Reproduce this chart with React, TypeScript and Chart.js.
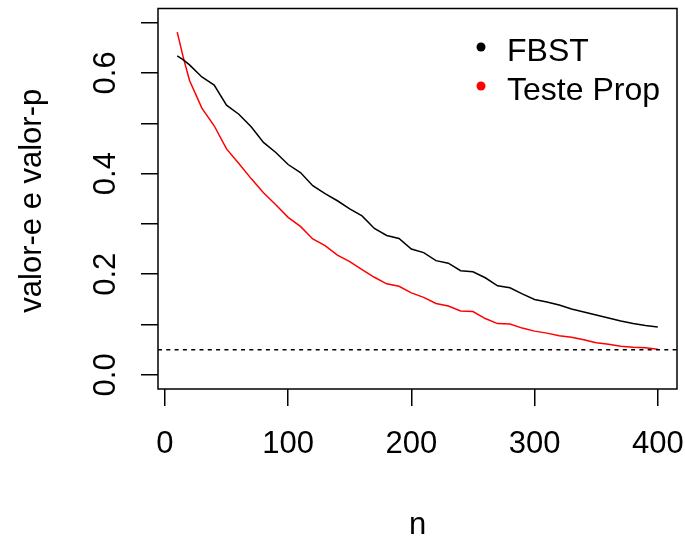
import { useEffect, useRef } from "react";
import { Chart, registerables } from "chart.js";

Chart.register(...registerables);

const nValues = [10, 15, 20, 30, 40, 50, 60, 70, 80, 90, 100, 110, 120, 130, 140, 150, 160, 170, 180, 190, 200, 210, 220, 230, 240, 250, 260, 270, 280, 290, 300, 310, 320, 330, 340, 350, 360, 370, 380, 390, 400];
const fbstValues = [0.634, 0.626, 0.616, 0.592, 0.576, 0.536, 0.518, 0.493, 0.462, 0.442, 0.418, 0.402, 0.376, 0.360, 0.346, 0.330, 0.316, 0.291, 0.277, 0.271, 0.250, 0.243, 0.227, 0.222, 0.207, 0.205, 0.193, 0.177, 0.173, 0.161, 0.150, 0.145, 0.139, 0.131, 0.125, 0.119, 0.113, 0.107, 0.102, 0.098, 0.095];
const propValues = [0.681, 0.630, 0.585, 0.530, 0.495, 0.449, 0.420, 0.390, 0.362, 0.338, 0.313, 0.295, 0.270, 0.257, 0.238, 0.225, 0.209, 0.194, 0.181, 0.176, 0.163, 0.154, 0.142, 0.137, 0.127, 0.126, 0.112, 0.102, 0.101, 0.093, 0.087, 0.083, 0.078, 0.075, 0.070, 0.064, 0.061, 0.057, 0.055, 0.054, 0.051];

const xTicks = [0, 100, 200, 300, 400];
const xTickLabels = ["0", "100", "200", "300", "400"];
const yTicks = [0, 0.1, 0.2, 0.3, 0.4, 0.5, 0.6, 0.7];
const yTickLabels = ["0.0", "", "0.2", "", "0.4", "", "0.6", ""];
const alphaLevel = 0.05;
const seriesLabels = ["FBST", "Teste Prop"];
const seriesColors = ["#000000", "#ff0000"];
const xTitle = "n";
const yTitle = "valor-e e valor-p";

const FONT = '31px "Liberation Sans", Arial, sans-serif';
const LEGEND_FONT = '32px "Liberation Sans", Arial, sans-serif';

const rPlotPlugin = {
  id: "rPlot",
  afterDatasetsDraw(chart: any) {
    const { ctx, chartArea, scales } = chart;
    const xs = scales.x;
    const ys = scales.y;
    ctx.save();
    // dotted abline
    const yA = ys.getPixelForValue(alphaLevel);
    ctx.strokeStyle = "#000";
    ctx.lineWidth = 1.5;
    ctx.setLineDash([4, 4.3]);
    ctx.beginPath();
    ctx.moveTo(chartArea.left, yA);
    ctx.lineTo(chartArea.right, yA);
    ctx.stroke();
    ctx.setLineDash([]);
    // box
    ctx.lineWidth = 1.5;
    ctx.strokeRect(chartArea.left, chartArea.top, chartArea.right - chartArea.left, chartArea.bottom - chartArea.top);

    ctx.fillStyle = "#000";
    ctx.font = FONT;
    // x tick labels
    ctx.textAlign = "center";
    ctx.textBaseline = "alphabetic";
    xTicks.forEach((v, i) => {
      ctx.fillText(xTickLabels[i], xs.getPixelForValue(v), 453);
    });
    // x title
    ctx.fillText(xTitle, (chartArea.left + chartArea.right) / 2, 534);
    // y tick labels rotated
    yTicks.forEach((v, i) => {
      if (!yTickLabels[i]) return;
      ctx.save();
      ctx.translate(115, ys.getPixelForValue(v));
      ctx.rotate(-Math.PI / 2);
      ctx.fillText(yTickLabels[i], 0, 0);
      ctx.restore();
    });
    // y title
    ctx.save();
    ctx.translate(41, (chartArea.top + chartArea.bottom) / 2 + 2);
    ctx.rotate(-Math.PI / 2);
    ctx.fillText(yTitle, 0, 0);
    ctx.restore();
    // legend
    ctx.font = LEGEND_FONT;
    ctx.textAlign = "left";
    const legY = [61, 100];
    seriesLabels.forEach((lab, i) => {
      ctx.fillStyle = seriesColors[i];
      ctx.beginPath();
      ctx.arc(481, legY[i] - 14, 4.5, 0, Math.PI * 2);
      ctx.fill();
      ctx.fillStyle = "#000";
      ctx.fillText(lab, 507, legY[i]);
    });
    ctx.restore();
  },
};

export default function App() {
  const ref = useRef<HTMLCanvasElement>(null);
  useEffect(() => {
    if (!ref.current) return;
    const chart = new Chart(ref.current, {
      type: "line",
      data: {
        datasets: [
          {
            label: seriesLabels[0],
            data: nValues.map((n, i) => ({ x: n, y: fbstValues[i] })),
            borderColor: seriesColors[0],
            borderWidth: 1.5,
            pointRadius: 0,
            tension: 0,
            fill: false,
          },
          {
            label: seriesLabels[1],
            data: nValues.map((n, i) => ({ x: n, y: propValues[i] })),
            borderColor: seriesColors[1],
            borderWidth: 1.5,
            pointRadius: 0,
            tension: 0,
            fill: false,
          },
        ],
      },
      options: {
        responsive: false,
        animation: false,
        devicePixelRatio: 1,
        layout: { padding: { top: 8.5, right: 8, left: 0, bottom: 0 } },
        plugins: { legend: { display: false }, tooltip: { enabled: false } },
        scales: {
          x: {
            type: "linear",
            min: -5.6,
            max: 415.6,
            afterBuildTicks: (s: any) => {
              s.ticks = xTicks.map((v) => ({ value: v }));
            },
            afterFit: (s: any) => {
              s.height = 544 - 389;
            },
            grid: { drawOnChartArea: false, drawTicks: true, tickLength: 17, color: "#000", lineWidth: 1.5 },
            border: { display: false },
            ticks: { display: false },
          },
          y: {
            type: "linear",
            min: -0.028,
            max: 0.728,
            afterBuildTicks: (s: any) => {
              s.ticks = yTicks.map((v) => ({ value: v }));
            },
            afterFit: (s: any) => {
              s.width = 158;
            },
            grid: { drawOnChartArea: false, drawTicks: true, tickLength: 17, color: "#000", lineWidth: 1.5 },
            border: { display: false },
            ticks: { display: false },
          },
        },
      },
      plugins: [rPlotPlugin],
    });
    return () => chart.destroy();
  }, []);
  return (
    <div style={{ position: "absolute", left: 0, top: 0, width: 685, height: 544, background: "#fff" }}>
      <canvas ref={ref} width={685} height={544} style={{ display: "block" }} />
    </div>
  );
}
